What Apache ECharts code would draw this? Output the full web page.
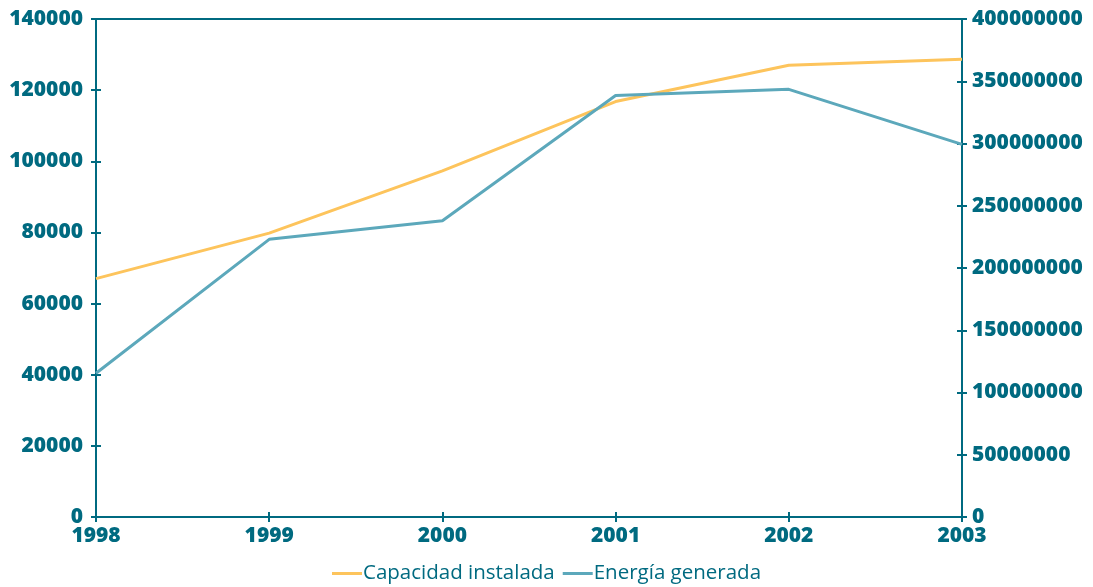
<!DOCTYPE html>
<html>
<head>
<meta charset="utf-8">
<script src="https://cdn.jsdelivr.net/npm/echarts@6/dist/echarts.min.js"></script>
<style>
html,body{margin:0;padding:0;background:#fff;}
#chart{width:1093px;height:587px;}
</style>
</head>
<body>
<div id="chart"></div>
<script>
const years = ['1998','1999','2000','2001','2002','2003'];
const capacidadInstalada = [67000, 79800, 97300, 116800, 127000, 128700];
const energiaGenerada = [115500000, 223000000, 238000000, 338500000, 343500000, 299300000];
const seriesNames = ['Capacidad instalada', 'Energía generada'];

const axisColor = '#006a80';
const font = 'Open Sans';
const labelStyle = {color: axisColor, fontFamily: font, fontWeight: 800, fontSize: 21, formatter: v => String(v)};

const chart = echarts.init(document.getElementById('chart'));
chart.setOption({
  animation: false,
  grid: {left: 96, right: 131, top: 19, bottom: 70, show: true, borderColor: axisColor, borderWidth: 2, backgroundColor: 'transparent'},
  legend: {
    bottom: -2, left: 'center',
    itemWidth: 30, itemHeight: 3, itemGap: 8,
    icon: 'rect',
    textStyle: {color: axisColor, fontFamily: font, fontSize: 20.5, padding: [0,0,0,-4]},
    data: seriesNames
  },
  xAxis: [{
    type: 'category', data: years, boundaryGap: false,
    axisLine: {lineStyle: {color: axisColor, width: 2}},
    axisTick: {show: true, length: 5, inside: false, lineStyle: {color: axisColor, width: 2}},
    axisLabel: Object.assign({}, labelStyle, {margin: 9}),
    splitLine: {show: false}
  }, {
    type: 'category', data: years, boundaryGap: false, position: 'bottom',
    axisLine: {show: false},
    axisTick: {show: true, length: 5, inside: true, lineStyle: {color: axisColor, width: 2}},
    axisLabel: {show: false}, splitLine: {show: false}
  }],
  yAxis: [{
    type: 'value', min: 0, max: 140000, interval: 20000, position: 'left',
    axisLine: {show: true, lineStyle: {color: axisColor, width: 2}},
    axisTick: {show: true, length: 5, lineStyle: {color: axisColor, width: 2}},
    axisLabel: Object.assign({}, labelStyle, {margin: 13}),
    splitLine: {show: false}
  }, {
    type: 'value', min: 0, max: 400000000, interval: 50000000, position: 'right',
    axisLine: {show: true, lineStyle: {color: axisColor, width: 2}},
    axisTick: {show: true, length: 5, lineStyle: {color: axisColor, width: 2}},
    axisLabel: Object.assign({}, labelStyle, {margin: 10}),
    splitLine: {show: false}
  }, {
    type: 'value', min: 0, max: 140000, interval: 20000, position: 'left',
    axisLine: {show: false},
    axisTick: {show: true, inside: true, length: 5, lineStyle: {color: axisColor, width: 2}},
    axisLabel: {show: false}, splitLine: {show: false}
  }, {
    type: 'value', min: 0, max: 400000000, interval: 50000000, position: 'right',
    axisLine: {show: false},
    axisTick: {show: true, inside: true, length: 5, lineStyle: {color: axisColor, width: 2}},
    axisLabel: {show: false}, splitLine: {show: false}
  }],
  series: [{
    name: seriesNames[0], type: 'line', yAxisIndex: 0, data: capacidadInstalada,
    showSymbol: false, symbol: 'none',
    lineStyle: {color: '#fdc45c', width: 3}, itemStyle: {color: '#fdc45c'}
  }, {
    name: seriesNames[1], type: 'line', yAxisIndex: 1, data: energiaGenerada,
    showSymbol: false, symbol: 'none',
    lineStyle: {color: '#5ca8bb', width: 3}, itemStyle: {color: '#5ca8bb'}
  }]
});
</script>
</body>
</html>
